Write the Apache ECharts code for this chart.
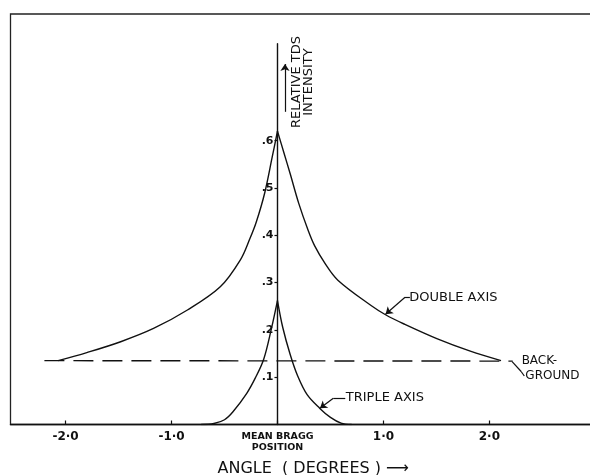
<!DOCTYPE html>
<html>
<head>
<meta charset="utf-8">
<script src="https://cdn.jsdelivr.net/npm/echarts@6/dist/echarts.min.js"></script>
<style>
  html, body { margin: 0; padding: 0; background: #fff; }
  #chart { width: 590px; height: 475px; }
</style>
</head>
<body>
<div id="chart"></div>
<script>
// tick values
const angleTicks = [-2, -1, 0, 1, 2]
const intensityTicks = [0.1, 0.2, 0.3, 0.4, 0.5, 0.6]

// double axis scan
const doubleAngle = [-2.07, -1.8, -1.48, -1.17, -0.85, -0.54, -0.35, -0.26, -0.2, -0.12, -0.05, 0,
  0.06, 0.12, 0.2, 0.29, 0.35, 0.45, 0.57, 0.88, 1.02, 1.19, 1.51, 1.82, 2.11]
const doubleIntensity = [0.135, 0.152, 0.175, 0.203, 0.242, 0.291, 0.348, 0.393, 0.428, 0.49, 0.565, 0.62,
  0.575, 0.53, 0.468, 0.41, 0.378, 0.34, 0.305, 0.252, 0.232, 0.213, 0.181, 0.155, 0.135]

// triple axis scan
const tripleAngle = [-0.72, -0.6, -0.5, -0.42, -0.29, -0.21, -0.13, -0.06, 0,
  0.05, 0.12, 0.19, 0.28, 0.4, 0.5, 0.6, 0.7]
const tripleIntensity = [0, 0.002, 0.01, 0.027, 0.066, 0.098, 0.138, 0.2, 0.262,
  0.205, 0.148, 0.103, 0.063, 0.034, 0.015, 0.003, 0]

// background level
const backgroundAngle = [-2.2, 2.22]
const backgroundIntensity = [0.135, 0.134]

const FONT = 'DejaVu Sans'
const INK = '#111'
const X_MIN = -2.52
const X_MAX = 2.95
const GRID_LEFT = 10.5

function pairs(xs, ys) {
  return xs.map((x, i) => [x, ys[i]])
}

// split a peaked curve at its maximum so both branches meet in a sharp cusp
function branches(xs, ys) {
  const top = ys.indexOf(Math.max(...ys))
  const pts = pairs(xs, ys)
  return [pts.slice(0, top + 1), pts.slice(top)]
}

const [doubleLeft, doubleRight] = branches(doubleAngle, doubleIntensity)
const [tripleLeft, tripleRight] = branches(tripleAngle, tripleIntensity)

function curve(data) {
  return {
    type: 'line',
    data: data,
    smooth: 0.35,
    symbol: 'none',
    lineStyle: {color: INK, width: 1.4},
    silent: true
  }
}

function note(name, coord, extra) {
  return Object.assign({name: name, coord: coord}, extra || {})
}

function seg(a, b, arrow) {
  return [{coord: a, symbol: 'none'}, {coord: b, symbol: arrow ? 'arrow' : 'none'}]
}

let chartDom = document.getElementById('chart')
let chart = echarts.init(chartDom, null, {renderer: 'canvas'})

// the intensity axis stands at angle 0, in the middle of the plot
const plotWidth = chartDom.clientWidth - GRID_LEFT
const zeroOffset = -plotWidth * (0 - X_MIN) / (X_MAX - X_MIN)

chart.setOption({
  animation: false,
  backgroundColor: '#fff',
  textStyle: {fontFamily: FONT, color: INK},
  grid: [
    {left: GRID_LEFT, right: 0, top: 43.7, bottom: 50.5, outerBoundsMode: 'none'},
    // outer frame of the figure
    {left: GRID_LEFT, right: -30, top: 14, bottom: 50.5, outerBoundsMode: 'none',
      show: true, borderColor: '#222', borderWidth: 1.3}
  ],
  xAxis: [
    {
      type: 'value',
      gridIndex: 0,
      min: X_MIN,
      max: X_MAX,
      splitLine: {show: false},
      axisLine: {lineStyle: {color: INK, width: 1.4}},
      axisTick: {show: true, inside: true, length: 4, customValues: angleTicks, lineStyle: {color: INK, width: 1.2}},
      axisLabel: {
        customValues: angleTicks,
        margin: 6,
        fontSize: 12,
        fontWeight: 'bold',
        color: INK,
        formatter: function (v) {
          if (v === 0) return '{m|MEAN BRAGG}\n{m|POSITION}'
          return (v < 0 ? '-' : '') + Math.abs(v).toFixed(1).replace('.', '·')
        },
        rich: {m: {fontSize: 9.5, fontWeight: 'bold', lineHeight: 11.5, color: INK}}
      },
      name: 'ANGLE  ( DEGREES ) ⟶',
      nameLocation: 'middle',
      nameGap: 36,
      nameTextStyle: {fontSize: 16, color: INK, padding: [0, 0, 0, 26]}
    },
    {type: 'value', gridIndex: 1, show: false, min: 0, max: 1}
  ],
  yAxis: [
    {
      type: 'value',
      gridIndex: 0,
      min: 0,
      max: 0.805,
      offset: zeroOffset,
      splitLine: {show: false},
      axisLine: {show: true, onZero: false, lineStyle: {color: INK, width: 1.4}},
      axisTick: {show: true, length: 3, customValues: intensityTicks, lineStyle: {color: INK, width: 1.2}},
      axisLabel: {
        customValues: intensityTicks,
        margin: 4,
        fontSize: 11,
        fontWeight: 'bold',
        color: INK,
        formatter: v => v.toFixed(1).replace('0.', '.')
      }
    },
    {type: 'value', gridIndex: 1, show: false, min: 0, max: 1}
  ],
  series: [
    curve(doubleLeft),
    curve(doubleRight),
    curve(tripleLeft),
    curve(tripleRight),
    {
      type: 'line',
      data: pairs(backgroundAngle, backgroundIntensity),
      symbol: 'none',
      silent: true,
      lineStyle: {color: INK, width: 1.4, type: [20, 9]},
      markLine: {
        silent: true,
        symbolSize: 7,
        label: {show: false},
        lineStyle: {color: INK, width: 1.2, type: 'solid'},
        emphasis: {disabled: true},
        data: [
          seg([1.25, 0.269], [1.204, 0.269]),
          seg([1.204, 0.269], [1.02, 0.233], true),
          seg([0.64, 0.0554], [0.527, 0.0554]),
          seg([0.527, 0.0554], [0.401, 0.0342], true),
          seg([2.33, 0.1025], [2.3, 0.112]),
          seg([2.3, 0.112], [2.215, 0.133]),
          seg([0.071, 0.661], [0.071, 0.762], true)
        ]
      },
      markPoint: {
        silent: true,
        symbol: 'circle',
        symbolSize: 1,
        itemStyle: {color: 'rgba(0,0,0,0)'},
        label: {show: true, position: 'right', distance: 0, formatter: '{b}', fontSize: 13, color: INK, fontFamily: FONT},
        data: [
          note('DOUBLE AXIS', [1.24, 0.268]),
          note('TRIPLE AXIS', [0.64, 0.056]),
          note('BACK-', [2.3, 0.135], {label: {fontSize: 12}}),
          note('GROUND', [2.335, 0.1025], {label: {fontSize: 12}}),
          note('RELATIVE TDS\nINTENSITY', [0.236, 0.724], {
            label: {position: 'inside', rotate: 90, fontSize: 13, lineHeight: 12}
          })
        ]
      }
    }
  ]
})

window.onresize = () => chart.resize()
</script>
</body>
</html>
